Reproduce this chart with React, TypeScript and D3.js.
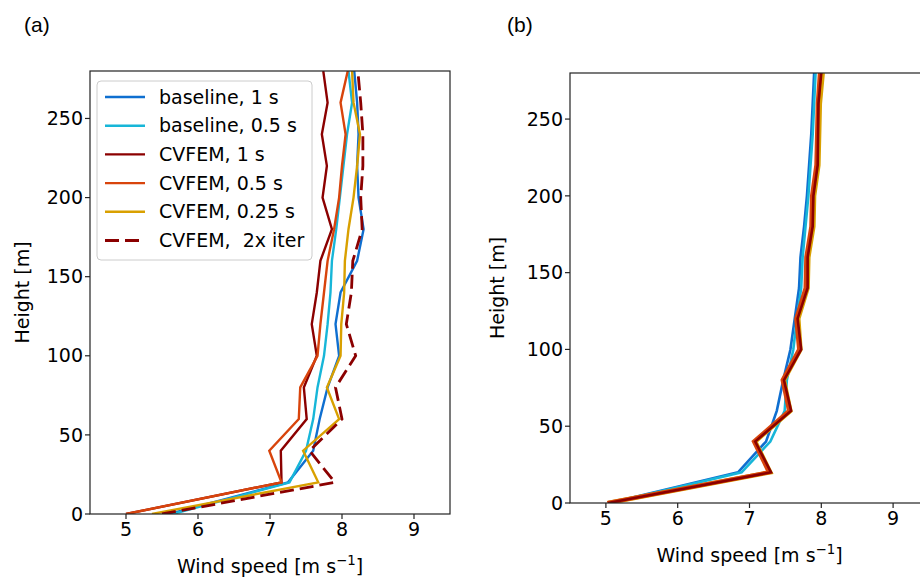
import React from "react";
import * as d3 from "d3";

// ---------- data ----------
const heights = [0, 20, 40, 60, 80, 100, 120, 140, 160, 180, 200, 220, 240, 260, 280];

// Panel (a)
const aBaseline1 = [5.6, 7.25, 7.6, 7.69, 7.8, 7.96, 7.91, 7.98, 8.21, 8.3, 8.23, 8.21, 8.23, 8.21, 8.17];
const aBaseline05 = [5.65, 7.27, 7.5, 7.6, 7.66, 7.75, 7.8, 7.84, 7.86, 7.92, 7.97, 8.02, 8.07, 8.14, 8.09];
const aCvfem1 = [5.0, 7.16, 7.15, 7.51, 7.47, 7.65, 7.58, 7.65, 7.7, 7.86, 7.73, 7.79, 7.72, 7.8, 7.74];
const aCvfem05 = [5.0, 7.16, 6.99, 7.4, 7.42, 7.66, 7.7, 7.75, 7.8, 7.89, 7.96, 8.0, 8.05, 7.98, 8.08];
const aCvfem025 = [5.36, 7.67, 7.46, 7.96, 7.79, 7.98, 7.99, 8.03, 8.04, 8.09, 8.16, 8.21, 8.25, 8.16, 8.14];
const aCvfem2x = [5.5, 7.9, 7.55, 8.0, 7.91, 8.19, 8.06, 8.13, 8.15, 8.28, 8.26, 8.29, 8.29, 8.26, 8.22];

// Panel (b)
const bBaseline1 = [5.05, 6.84, 7.23, 7.38, 7.47, 7.57, 7.63, 7.69, 7.71, 7.76, 7.8, 7.83, 7.86, 7.88, 7.9];
const bBaseline05 = [5.07, 6.89, 7.29, 7.49, 7.52, 7.61, 7.66, 7.72, 7.74, 7.78, 7.82, 7.85, 7.88, 7.9, 7.92];
const bCvfem1 = [5.03, 7.3, 7.08, 7.58, 7.48, 7.72, 7.67, 7.81, 7.81, 7.88, 7.89, 7.95, 7.955, 7.96, 8.0];
const bCvfem05 = [5.02, 7.27, 7.06, 7.55, 7.46, 7.69, 7.65, 7.78, 7.79, 7.86, 7.87, 7.93, 7.94, 7.95, 7.98];
const bCvfem025 = [5.03, 7.29, 7.08, 7.57, 7.48, 7.71, 7.68, 7.81, 7.82, 7.89, 7.9, 7.96, 7.97, 7.98, 8.02];

const xTicks = [5, 6, 7, 8, 9];
const yTicks = [0, 50, 100, 150, 200, 250];
const xDomain: [number, number] = [4.5, 9.5];
const yDomain: [number, number] = [0, 280];

const legendLabels = [
  "baseline, 1 s",
  "baseline, 0.5 s",
  "CVFEM, 1 s",
  "CVFEM, 0.5 s",
  "CVFEM, 0.25 s",
  "CVFEM,  2x iter",
];

// ---------- styles ----------
const C_BLUE = "#0f6fd0";
const C_CYAN = "#17b6d8";
const C_DRED = "#8b0000";
const C_ORANGE = "#d8440c";
const C_GOLD = "#d9a000";
const FONT = "DejaVu Sans, sans-serif";
const FS = 19;

type Series = { vals: number[]; color: string; width: number; dash?: string };

function Panel(props: {
  id: string;
  left: number;
  right: number;
  top: number;
  bottom: number;
  series: Series[];
  ylabelX: number;
  legend?: boolean;
}) {
  const { id, left, right, top, bottom, series, ylabelX, legend } = props;
  const x = d3.scaleLinear().domain(xDomain).range([left, right]);
  const y = d3.scaleLinear().domain(yDomain).range([bottom, top]);
  const line = (vals: number[]) =>
    d3
      .line<number>()
      .x((v) => x(v))
      .y((_, i) => y(heights[i]))(vals) || "";
  const cx = (left + right) / 2;
  const cy = (top + bottom) / 2;
  return (
    <g>
      <defs>
        <clipPath id={"clip-" + id}>
          <rect x={left} y={top} width={right - left} height={bottom - top} />
        </clipPath>
      </defs>
      <g clipPath={`url(#clip-${id})`}>
        {series.map((s, i) => (
          <path
            key={i}
            d={line(s.vals)}
            fill="none"
            stroke={s.color}
            strokeWidth={s.width}
            strokeDasharray={s.dash}
            strokeLinejoin="miter"
          />
        ))}
      </g>
      <rect x={left} y={top} width={right - left} height={bottom - top} fill="none" stroke="#222" strokeWidth={1.2} />
      {xTicks.map((t) => (
        <g key={"x" + t}>
          <line x1={x(t)} x2={x(t)} y1={bottom} y2={bottom + 5} stroke="#222" strokeWidth={1.2} />
          <text x={x(t)} y={bottom + 22} textAnchor="middle" fontFamily={FONT} fontSize={FS} fill="#000">
            {t}
          </text>
        </g>
      ))}
      {yTicks.map((t) => (
        <g key={"y" + t}>
          <line x1={left - 5} x2={left} y1={y(t)} y2={y(t)} stroke="#222" strokeWidth={1.2} />
          <text x={left - 7} y={y(t)} dy="0.35em" textAnchor="end" fontFamily={FONT} fontSize={FS} fill="#000">
            {t}
          </text>
        </g>
      ))}
      <text x={cx} y={bottom + 59} textAnchor="middle" fontFamily={FONT} fontSize={FS} fill="#000">
        Wind speed [m s
        <tspan fontSize={FS * 0.7} dy={-8}>
          −1
        </tspan>
        <tspan dy={8}>]</tspan>
      </text>
      <text
        transform={`translate(${ylabelX},${cy}) rotate(-90)`}
        textAnchor="middle"
        dy="0.35em"
        fontFamily={FONT}
        fontSize={FS}
        fill="#000"
      >
        Height [m]
      </text>
      {legend && (
        <g>
          <rect x={97} y={81} width={215} height={179} rx={4} fill="#fff" fillOpacity={0.85} stroke="#cccccc" strokeWidth={1} />
          {legendLabels.map((lab, i) => {
            const s = series[i];
            const yy = 97 + i * 28.7;
            return (
              <g key={lab}>
                <line x1={105} x2={145} y1={yy} y2={yy} stroke={s.color} strokeWidth={s.width} strokeDasharray={s.dash} />
                <text
                  x={159}
                  y={yy}
                  dy="0.35em"
                  fontFamily={FONT}
                  fontSize={FS}
                  fill="#000"
                  style={{ whiteSpace: "pre" }}
                >
                  {lab}
                </text>
              </g>
            );
          })}
        </g>
      )}
    </g>
  );
}

export default function App() {
  const seriesA: Series[] = [
    { vals: aBaseline1, color: C_BLUE, width: 2.4 },
    { vals: aBaseline05, color: C_CYAN, width: 2.4 },
    { vals: aCvfem1, color: C_DRED, width: 2.4 },
    { vals: aCvfem05, color: C_ORANGE, width: 2.4 },
    { vals: aCvfem025, color: C_GOLD, width: 2.4 },
    { vals: aCvfem2x, color: C_DRED, width: 2.8, dash: "14,6" },
  ];
  const seriesB: Series[] = [
    { vals: bBaseline1, color: C_BLUE, width: 2.6 },
    { vals: bBaseline05, color: C_CYAN, width: 2.6 },
    { vals: bCvfem025, color: C_GOLD, width: 4.4 },
    { vals: bCvfem05, color: C_ORANGE, width: 4 },
    { vals: bCvfem1, color: C_DRED, width: 2.6 },
  ];
  return (
    <svg
      width={920}
      height={578}
      style={{ position: "absolute", left: 0, top: 0, background: "#fff" }}
    >
      <rect width={920} height={578} fill="#fff" />
      <text x={24} y={32} fontFamily="Liberation Sans, Arial, sans-serif" fontSize={21} fill="#000">
        (a)
      </text>
      <text x={507} y={32} fontFamily="Liberation Sans, Arial, sans-serif" fontSize={21} fill="#000">
        (b)
      </text>
      <Panel id="a" left={90} right={450} top={71} bottom={514} series={seriesA} ylabelX={22} legend />
      <Panel id="b" left={570} right={929} top={73} bottom={503} series={seriesB} ylabelX={497} />
    </svg>
  );
}
